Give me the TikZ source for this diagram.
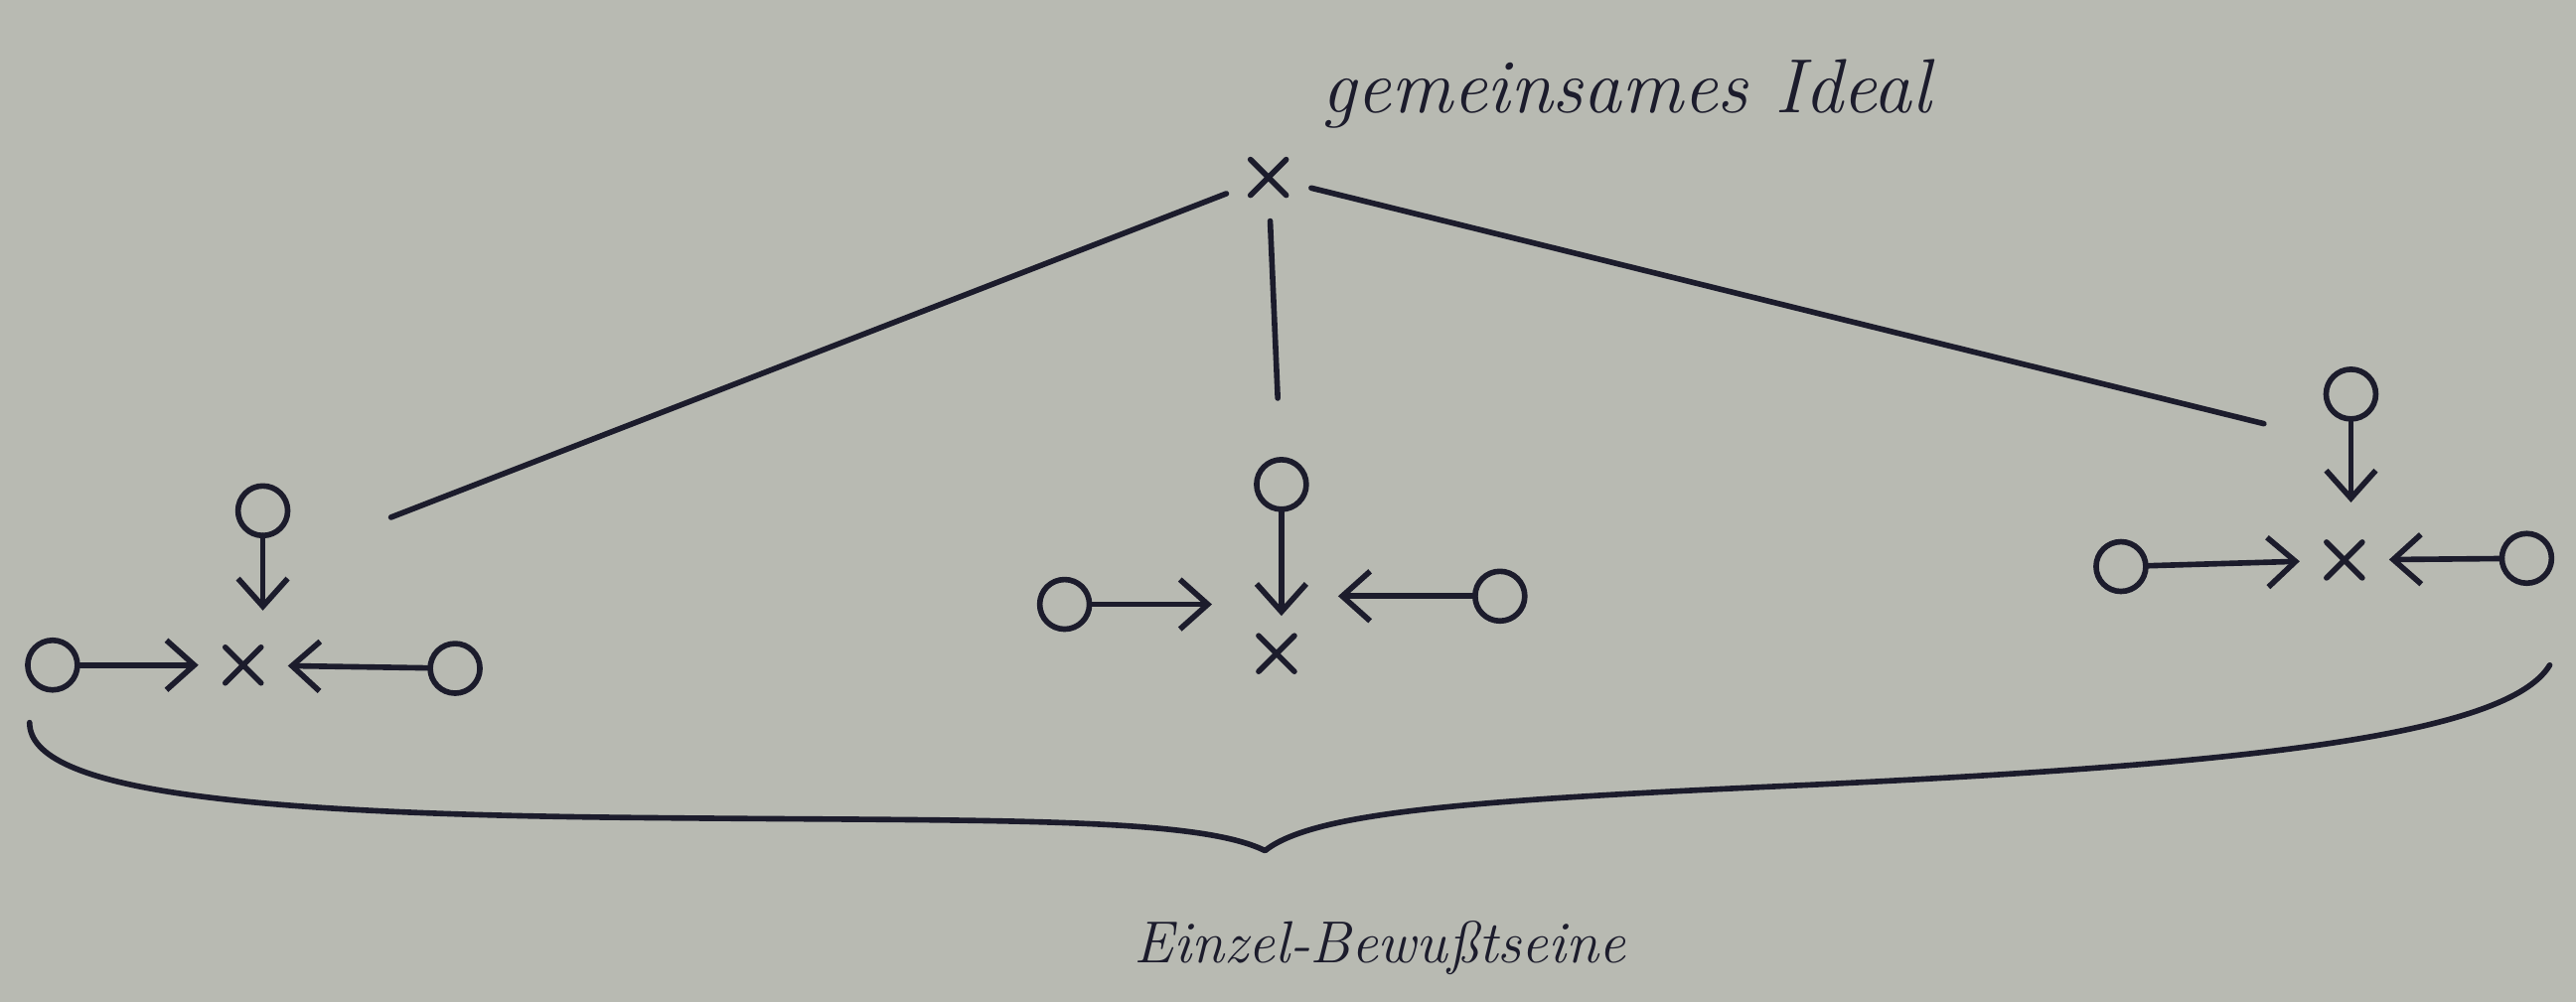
\documentclass[tikz,border=0pt]{standalone}
\usepackage{tikz}
\usetikzlibrary{arrows.meta,shapes.misc}
\definecolor{paper}{RGB}{184,186,178}
\definecolor{ink}{RGB}{28,28,44}
\tikzset{
  ring_/.style  = {shape=circle, draw, minimum size=0.5cm, inner sep=0pt, outer sep=0pt},
  cross_/.style = {shape=cross out, draw, minimum size=0.36cm, inner sep=0pt, outer sep=0pt},
  arrow_/.style = {draw, shorten >=0.27cm, -{Straight Barb[length=0.28cm,width=0.5cm]}},
  line_/.style  = {draw, shorten <=0.26cm}
}

\begin{document}
\begin{tikzpicture}
  [
    x                  = 0.01654cm,
    y                  = -0.01654cm,
    every path/.style  = {line width=1.6pt, color=ink, line cap=round, line join=round},
    every node/.style  = {text=ink, font=\itshape}
  ]
  \fill [paper] (0,0) rectangle (1568,610);

  \node [cross_] (ideal) at (772,108) {};
  \node [font=\fontsize{22}{26}\selectfont\itshape] (ideal_txt) at (990,57) {gemeinsames Ideal};

  \node [cross_] (x1)  at (148,405) {};
  \node [ring_]  (o1t) at (160,311) {};
  \node [ring_]  (o1l) at (32,405) {};
  \node [ring_]  (o1r) at (277,407) {};

  \node [cross_] (x2)  at (777,398) {};
  \node [ring_]  (o2t) at (780,295) {};
  \node [ring_]  (o2l) at (648,368) {};
  \node [ring_]  (o2r) at (913,363) {};

  \node [cross_] (x3)  at (1427,341) {};
  \node [ring_]  (o3t) at (1431,240) {};
  \node [ring_]  (o3l) at (1291,345) {};
  \node [ring_]  (o3r) at (1538,340) {};

  \coordinate (g1) at (238,315);
  \coordinate (g3) at (1378,258);

  \draw [line_] (ideal) -- (g1);
  \draw [line_, shorten >=0.62cm] (ideal) -- (o2t);
  \draw [line_] (ideal) -- (g3);

  \draw [arrow_, shorten >=0.55cm] (o1t) -- (o1t |- x1);
  \draw [arrow_] (o1l) -- (x1);
  \draw [arrow_] (o1r) -- (x1);

  \draw [arrow_, shorten >=0.38cm] (o2t) -- (o2t |- x2);
  \draw [arrow_, shorten >=0.65cm] (o2l) -- (o2l -| x2);
  \draw [arrow_, shorten >=0.62cm] (o2r) -- (o2r -| x2);

  \draw [arrow_, shorten >=0.58cm] (o3t) -- (o3t |- x3);
  \draw [arrow_] (o3l) -- (x3);
  \draw [arrow_] (o3r) -- (x3);

  \draw (18,440) .. controls (18,482) and (150,496) .. (400,498)
        .. controls (600,500) and (728,497) .. (770,518)
        .. controls (800,494) and (900,487) .. (1100,478)
        .. controls (1350,466) and (1525,450) .. (1552,405);

  \node [font=\fontsize{17}{20}\selectfont\itshape] (einzel_txt) at (840,577) {Einzel-Bewußtseine};
\end{tikzpicture}
\end{document}
